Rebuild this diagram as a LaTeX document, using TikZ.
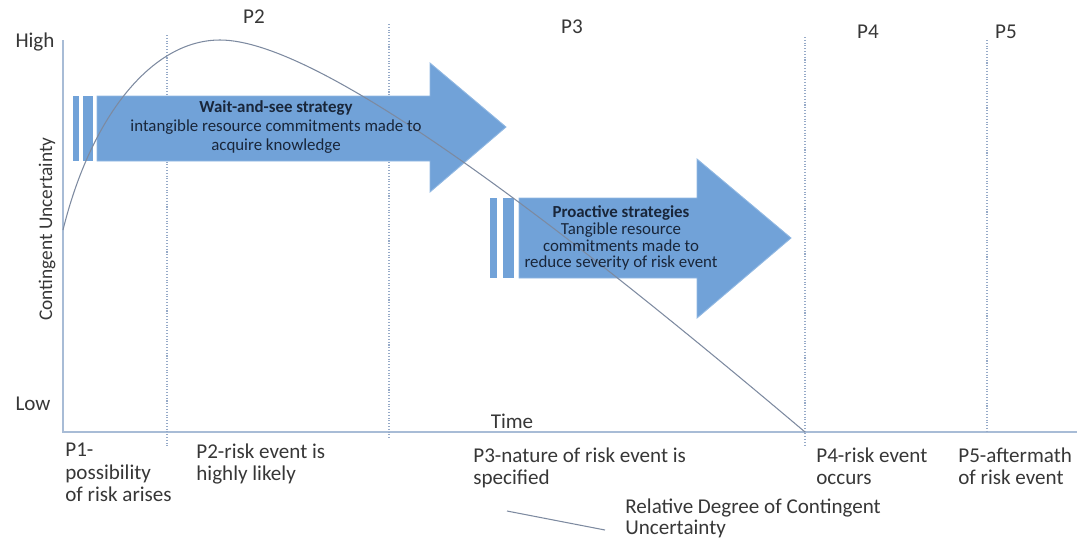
\documentclass[tikz,border=0pt]{standalone}
\usepackage{fontspec}
\setmainfont{Carlito}
\definecolor{arrowblue}{RGB}{113,162,216}
\definecolor{arrowedge}{RGB}{145,184,226}
\definecolor{axisgray}{RGB}{168,188,214}
\definecolor{phasegray}{RGB}{150,170,200}
\definecolor{curvegray}{RGB}{125,138,160}
\definecolor{labelgray}{RGB}{55,55,55}
\definecolor{arrowtext}{RGB}{25,38,58}
\tikzset{
	axisline/.style={draw=axisgray, line width=0.9pt},
	phaseline/.style={draw=phasegray, densely dotted, line width=0.6pt},
	curveline/.style={draw=curvegray, line width=0.6pt},
	blockarrow/.style={fill=arrowblue, draw=arrowedge, line width=0.5pt},
	axislabel/.style={text=labelgray, inner sep=0pt, font=\fontsize{12}{12.8}\selectfont},
	phaselabel/.style={text=labelgray, inner sep=0pt, align=left, anchor=north west, font=\fontsize{12}{12.8}\selectfont},
	arrowlabel/.style={text=arrowtext, inner sep=0pt, align=center, font=\fontsize{9.6}{#1}\selectfont},
}
\begin{document}
\begin{tikzpicture}[x=0.02cm,y=-0.02cm]
	\useasboundingbox (0,0) rectangle (1081,542);
	% axes
	\coordinate (origin) at (63,432);
	\coordinate (ytop) at (63,40);
	\coordinate (xend) at (1077,432);
	\draw[axisline] (ytop) -- (origin) -- (xend);
	\node[axislabel] (high) at (35,42) {High};
	\node[axislabel] (low) at (33,404) {Low};
	\node[axislabel, rotate=90, font=\fontsize{11}{12}\selectfont] (yaxis) at (47,229) {Contingent Uncertainty};
	\node[axislabel] (time) at (512,421) {Time};
	% phase borders
	\draw[phaseline] (167,35) -- (167,447);
	\draw[phaseline] (389,24) -- (389,440);
	\draw[phaseline] (805,37) -- (805,447);
	\draw[phaseline] (987,40) -- (987,433);
	\node[axislabel] (ptwo) at (254,17) {P2};
	\node[axislabel] (pthree) at (572,27) {P3};
	\node[axislabel] (pfour) at (868,32) {P4};
	\node[axislabel] (pfive) at (1006,32) {P5};
	% wait-and-see arrow
	\fill[arrowblue] (73,96) rectangle (79,161);
	\fill[arrowblue] (83,96) rectangle (93,161);
	\draw[blockarrow] (97,96) -- (430,96) -- (430,63) -- (506,127) -- (430,192) -- (430,161) -- (97,161) -- cycle;
	% proactive arrow
	\fill[arrowblue] (490,198) rectangle (497,278);
	\fill[arrowblue] (503,198) rectangle (514,278);
	\draw[blockarrow] (519,198) -- (697,198) -- (697,159) -- (791,238) -- (697,318) -- (697,278) -- (519,278) -- cycle;
	% degree of contingent uncertainty
	\coordinate (cstart) at (63,230);
	\coordinate (cpeak) at (220,40);
	\coordinate (cend) at (805,432);
	\draw[curveline] (cstart) .. controls (90,120) and (150,40) .. (cpeak) .. controls (320,40) and (560,225) .. (cend);
	\node[arrowlabel=10.8pt] (wait) at (276,127) {\textbf{Wait-and-see strategy}\\intangible resource commitments made to\\acquire knowledge};
	\node[arrowlabel=9.6pt] (proactive) at (621,238) {\textbf{Proactive strategies}\\Tangible resource\\commitments made to\\reduce severity of risk event};
	% phase descriptions
	\node[phaselabel] (pone) at (65,443) {P1-\\possibility\\of risk arises};
	\node[phaselabel] (ptwolabel) at (196,443) {P2-risk event is\\highly likely};
	\node[phaselabel] (pthreelabel) at (473,447) {P3-nature of risk event is\\specified};
	\node[phaselabel] (pfourlabel) at (816,447) {P4-risk event\\occurs};
	\node[phaselabel] (pfivelabel) at (958,447) {P5-aftermath\\of risk event};
	% legend
	\coordinate (keyleft) at (507,511);
	\coordinate (keyright) at (605,530);
	\draw[curveline] (keyleft) -- (keyright);
	\node[phaselabel, font=\fontsize{12}{12.4}\selectfont] (legend) at (625,498) {Relative Degree of Contingent\\Uncertainty};
\end{tikzpicture}
\end{document}
